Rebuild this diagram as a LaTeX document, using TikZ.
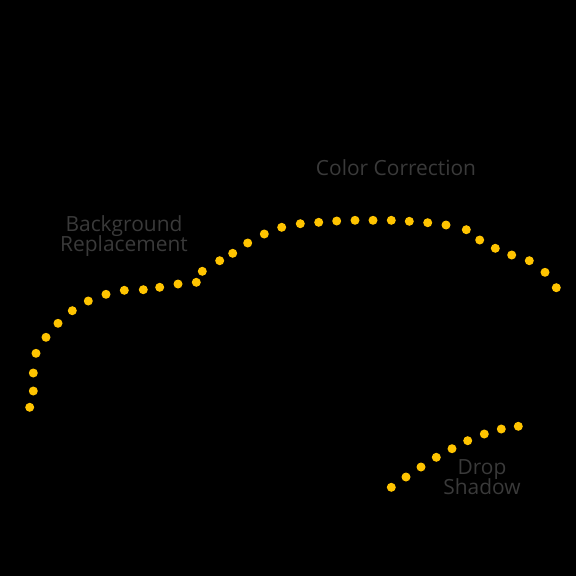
\documentclass[tikz,border=0pt]{standalone}
\usepackage{fontspec}
\setmainfont{Open Sans}
\usetikzlibrary{positioning}
\definecolor{dotgold}{RGB}{255,196,0}
\definecolor{labelgray}{RGB}{58,58,58}
\newcommand{\lblfont}{\fontsize{21}{20}\selectfont\setlength{\lineskiplimit}{-20pt}}

\begin{document}
\begin{tikzpicture}[x=1bp, y=-1bp,
    lbl/.style={text=labelgray, align=center, inner sep=0pt, font=\lblfont}]
    % Black Canvas
    \fill[black] (0,0) rectangle (576,576);

    % Long Dotted Curve
    \foreach \x/\y in {29.7/407.3, 33.3/391, 33.3/373, 36/353.3, 46/337.3,
        58/323.3, 72.3/310.7, 88.3/301, 106/294.3, 124.3/290.3, 143.3/289.7,
        159.7/287.3, 178/284, 196.3/282.3, 202.3/271.3, 219.7/260.7,
        232.7/253.3, 247.7/243, 264.3/234, 281.7/227.3, 300.3/223.7,
        318.7/222.3, 336.7/221, 355/220.3, 373/220.3, 391.3/220.3,
        409.3/221.3, 427.7/222.7, 446/225, 466.3/229.7, 479.7/240,
        495.3/248.3, 511.7/255, 529.3/260.7, 545/272.3, 556.3/287.7}
      \fill[dotgold] (\x,\y) circle (4.5bp);

    % Short Dotted Curve
    \foreach \x/\y in {391.3/487.3, 406/477, 421/467, 436.3/457.3, 452/448.7,
        467.7/440.7, 484.3/434, 501.3/429, 518.3/426.3}
      \fill[dotgold] (\x,\y) circle (4.5bp);

    % Labels
    \node[lbl] (bgreplace) at (124,236.5) {Background\\Replacement};
    \node[lbl] (colorfix) at (396,168) {Color Correction};
    \node[lbl] (dropshadow) at (482,477) {Drop\\Shadow};
  \end{tikzpicture}
\end{document}
